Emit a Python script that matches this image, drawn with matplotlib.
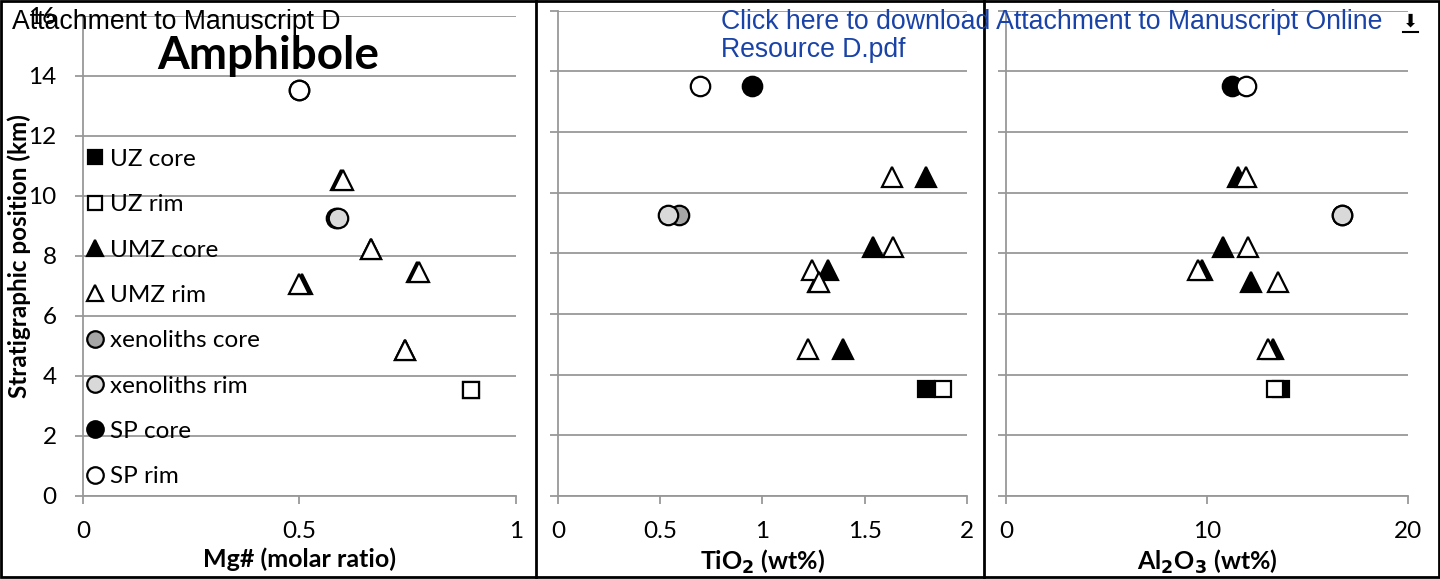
import matplotlib.pyplot as plt
from matplotlib.lines import Line2D

plt.rcParams['font.family'] = ['Lato', 'DejaVu Sans']

# stratigraphic position (km) of each sample group
uz_depth = [3.53]
umz_depth = [10.53, 8.22, 7.46, 7.05, 4.85]
xeno_depth = [9.27]
sp_depth = [13.52]

# Mg# (molar ratio)
uz_core_mg, uz_rim_mg = [0.896], [0.896]
umz_core_mg = [0.595, 0.665, 0.772, 0.505, 0.744]
umz_rim_mg = [0.600, 0.665, 0.777, 0.500, 0.744]
xeno_core_mg, xeno_rim_mg = [0.584], [0.588]
sp_core_mg, sp_rim_mg = [0.50], [0.50]

# TiO2 (wt%)
uz_core_ti, uz_rim_ti = [1.80], [1.885]
umz_core_ti = [1.80, 1.54, 1.32, 1.27, 1.395]
umz_rim_ti = [1.635, 1.64, 1.24, 1.275, 1.225]
xeno_core_ti, xeno_rim_ti = [0.59], [0.54]
sp_core_ti, sp_rim_ti = [0.95], [0.695]

# Al2O3 (wt%)
uz_core_al, uz_rim_al = [13.68], [13.38]
umz_core_al = [11.55, 10.80, 9.75, 12.19, 13.28]
umz_rim_al = [11.94, 12.04, 9.55, 13.53, 13.03]
xeno_core_al, xeno_rim_al = [16.7], [16.7]
sp_core_al, sp_rim_al = [11.24], [11.94]

series = [
    ('UZ core', uz_depth, uz_core_mg, uz_core_ti, uz_core_al),
    ('UZ rim', uz_depth, uz_rim_mg, uz_rim_ti, uz_rim_al),
    ('UMZ core', umz_depth, umz_core_mg, umz_core_ti, umz_core_al),
    ('UMZ rim', umz_depth, umz_rim_mg, umz_rim_ti, umz_rim_al),
    ('xenoliths core', xeno_depth, xeno_core_mg, xeno_core_ti, xeno_core_al),
    ('xenoliths rim', xeno_depth, xeno_rim_mg, xeno_rim_ti, xeno_rim_al),
    ('SP core', sp_depth, sp_core_mg, sp_core_ti, sp_core_al),
    ('SP rim', sp_depth, sp_rim_mg, sp_rim_ti, sp_rim_al),
]
# marker, face colour, size
styles = {
    'UZ core': ('s', 'black', 12),
    'UZ rim': ('s', 'white', 12),
    'UMZ core': ('^', 'black', 14),
    'UMZ rim': ('^', 'white', 14),
    'xenoliths core': ('o', '#a6a6a6', 14),
    'xenoliths rim': ('o', '#d9d9d9', 14),
    'SP core': ('o', 'black', 14),
    'SP rim': ('o', 'white', 14),
}

fig = plt.figure(figsize=(14.4, 5.79), dpi=100)
grey = '#989898'

panels = [
    ([0.0576, 0.1434, 0.3007, 0.8290], (0, 1), [0, 0.5, 1], 'Mg# (molar ratio)'),
    ([0.3875, 0.1434, 0.2840, 0.8381], (0, 2), [0, 0.5, 1, 1.5, 2], 'TiO$_\\mathbf{2}$ (wt%)'),
    ([0.6986, 0.1434, 0.2792, 0.8381], (0, 20), [0, 10, 20], 'Al$_\\mathbf{2}$O$_\\mathbf{3}$ (wt%)'),
]

axes = []
for i, (rect, xlim, xticks, xlabel) in enumerate(panels):
    ax = fig.add_axes(rect)
    ax.set_xlim(*xlim)
    ax.set_ylim(0, 16)
    ax.set_xticks(xticks)
    ax.set_xticklabels([f'{t:g}' for t in xticks])
    ax.set_yticks(range(0, 17, 2))
    ax.grid(axis='y', color=grey, lw=1.3)
    ax.set_axisbelow(True)
    for s in ['top', 'right']:
        ax.spines[s].set_visible(False)
    for s in ['left', 'bottom']:
        ax.spines[s].set_color(grey)
        ax.spines[s].set_linewidth(1.3)
    ax.tick_params(axis='x', direction='out', length=6, width=1.3, color=grey,
                   labelsize=17.5, pad=12)
    ax.tick_params(axis='y', direction='out', length=6, width=1.3, color=grey,
                   labelsize=17.5, pad=13)
    if i > 0:
        ax.tick_params(axis='y', labelleft=False)
    ax.set_xlabel(xlabel, fontsize=18, fontweight='bold', labelpad=4)
    for name, depth, mg, ti, al in series:
        marker, face, size = styles[name]
        xs = [mg, ti, al][i]
        ax.plot(xs, depth, ls='none', marker=marker, ms=size, mfc=face,
                mec='black', mew=1.6, clip_on=False, label=name)
    axes.append(ax)

ax1 = axes[0]
ax1.set_ylabel('Stratigraphic position (km)', fontsize=17.5, fontweight='bold', labelpad=-2)
ax1.text(0.427, 0.89, 'Amphibole', fontsize=33, fontweight='bold',
         ha='center', va='baseline', transform=ax1.transAxes)
ax1.legend(loc='upper left', bbox_to_anchor=(0.004, 0.723), frameon=False,
           fontsize=17.5, markerscale=0.85, handlelength=0.85, handletextpad=0.2,
           labelspacing=1.0, borderpad=0, borderaxespad=0)

# chart borders
for x in [0.372, 0.6835]:
    fig.add_artist(Line2D([x, x], [0, 1], color='black', lw=2))
fig.add_artist(plt.Rectangle((0.001, 0.004), 0.998, 0.994, fill=False,
                             edgecolor='black', lw=2, transform=fig.transFigure))

# page overlay texts
fig.text(0.008, 0.962, 'Attachment to Manuscript D', fontsize=19.2,
         family='Liberation Sans', va='center')
fig.text(0.5007, 0.962, 'Click here to download Attachment to Manuscript Online',
         fontsize=19.2, family='Liberation Sans', color='#1a43a8', va='center')
fig.text(0.5007, 0.913, 'Resource D.pdf', fontsize=19.2, family='Liberation Sans',
         color='#1a43a8', va='center')
fig.text(0.9792, 0.963, '⬇', fontsize=13, family=['DejaVu Sans'], va='center', ha='center')
fig.add_artist(Line2D([0.9740, 0.9845], [0.945, 0.945], color='black', lw=1.5))

fig.savefig('out.png', dpi=100)
